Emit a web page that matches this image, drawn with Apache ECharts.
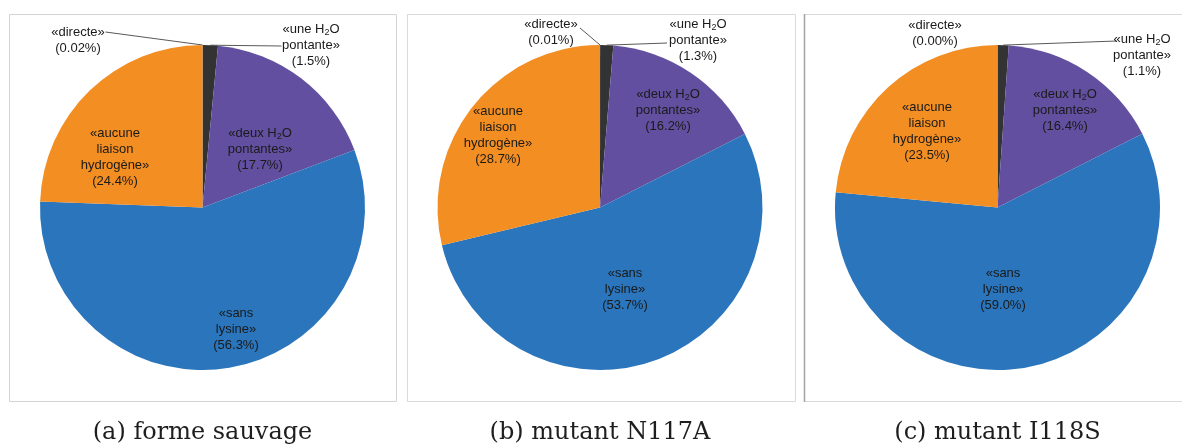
<!DOCTYPE html>
<html>
<head>
<meta charset="utf-8">
<script src="https://cdn.jsdelivr.net/npm/echarts@6/dist/echarts.min.js"></script>
<style>
  html, body { margin: 0; padding: 0; background: #ffffff; }
  #chart { width: 1182px; height: 447px; }
</style>
</head>
<body>
<div id="chart"></div>
<script>
// Interaction categories, clockwise from 12 o'clock
const categories = ['directe', 'une H2O pontante', 'deux H2O pontantes', 'sans lysine', 'aucune liaison hydrogène'];
// Text shown for each category ("_2" marks a subscript 2)
const categoryLabelLines = [
  ['«directe»'],
  ['«une H_2O', 'pontante»'],
  ['«deux H_2O', 'pontantes»'],
  ['«sans', 'lysine»'],
  ['«aucune', 'liaison', 'hydrogène»']
];
const panelTitles = ['(a) forme sauvage', '(b) mutant N117A', '(c) mutant I118S'];
// Share of frames (%) per category
const valuesWildType = [0.02, 1.5, 17.7, 56.3, 24.4];
const valuesN117A = [0.01, 1.3, 16.2, 53.7, 28.7];
const valuesI118S = [0.00, 1.1, 16.4, 59.0, 23.5];
const percentDecimals = [2, 1, 1, 1, 1];

const panelValues = [valuesWildType, valuesN117A, valuesI118S];

// ---- layout & styling ----
const sliceColors = ['#1f1f1f', '#333333', '#634f9f', '#2a75bb', '#f28e22'];
const pieCenters = [[202.5, 207.5], [600, 207.5], [997.5, 207.5]];
const pieRadius = 162.5;
const outsideItems = [0, 1];

// Label placement, relative to each pie centre; "line" is the leader end point
const labelPlacement = [
  [
    { dx: -124.5, dy: -167, line: [-97, -175.5] },
    { dx: 108.5, dy: -162.5, line: [79, -161.5] },
    { dx: 57.5, dy: -58.5 },
    { dx: 33.5, dy: 121.5 },
    { dx: -87.5, dy: -50.5 }
  ],
  [
    { dx: -49, dy: -175, line: [-20, -179.5] },
    { dx: 98, dy: -167.5, line: [67, -164.5] },
    { dx: 68, dy: -97.5 },
    { dx: 25, dy: 81.5 },
    { dx: -102, dy: -72 }
  ],
  [
    { dx: -62.5, dy: -174.5 },
    { dx: 144.5, dy: -152, line: [119, -166.5] },
    { dx: 67.5, dy: -97.5 },
    { dx: 5.5, dy: 81.5 },
    { dx: -70.5, dy: -76.5 }
  ]
];

function richLine(line) {
  return line.split('_2').map(function (part) { return part ? '{t|' + part + '}' : ''; }).join('{s|2}');
}

function labelText(idx, value) {
  const lines = categoryLabelLines[idx].map(richLine);
  lines.push('{t|(' + value.toFixed(percentDecimals[idx]) + '%)}');
  return lines.join('\n');
}

function midAngle(values, idx) {
  const total = values.reduce(function (a, b) { return a + b; }, 0);
  let before = 0;
  for (let i = 0; i < idx; i++) before += values[i];
  return (before + values[idx] / 2) / total * Math.PI * 2;
}

const richStyles = {
  t: { fontFamily: '"Liberation Sans", Arial, sans-serif', fontSize: 13, lineHeight: 16, color: '#1a1a1a' },
  s: { fontFamily: '"Liberation Sans", Arial, sans-serif', fontSize: 9, lineHeight: 8, color: '#1a1a1a', verticalAlign: 'bottom' }
};

const series = panelValues.map(function (values, k) {
  const c = pieCenters[k];
  return {
    type: 'pie',
    center: c,
    radius: [0, pieRadius],
    startAngle: 90,
    clockwise: true,
    avoidLabelOverlap: false,
    animation: false,
    silent: true,
    emphasis: { disabled: true },
    itemStyle: { borderWidth: 0 },
    data: values.map(function (v, i) {
      const outside = outsideItems.indexOf(i) >= 0;
      return {
        name: categories[i],
        value: v,
        itemStyle: { color: sliceColors[i] },
        label: {
          show: true,
          position: outside ? 'outside' : 'inside',
          formatter: labelText(i, v),
          rich: richStyles
        },
        labelLine: {
          show: outside && !!labelPlacement[k][i].line,
          length: 10,
          length2: 10,
          lineStyle: { color: '#595959', width: 1 }
        }
      };
    }),
    labelLayout: function (p) {
      const place = labelPlacement[k][p.dataIndex];
      const res = {
        x: c[0] + place.dx,
        y: c[1] + place.dy,
        align: 'center',
        verticalAlign: 'middle'
      };
      if (place.line) {
        const a = midAngle(values, p.dataIndex);
        const start = [c[0] + pieRadius * Math.sin(a), c[1] - pieRadius * Math.cos(a)];
        const end = [c[0] + place.line[0], c[1] + place.line[1]];
        res.labelLinePoints = [start, start, end];
      }
      return res;
    }
  };
});

// Panel frames and captions
const graphics = [
  { type: 'rect', shape: { x: 9.5, y: 14.5, width: 387, height: 387 }, style: { fill: 'none', stroke: '#d4d4d4', lineWidth: 1 } },
  { type: 'rect', shape: { x: 407.5, y: 14.5, width: 388, height: 387 }, style: { fill: 'none', stroke: '#d9d9d9', lineWidth: 1 } },
  { type: 'rect', shape: { x: 804.5, y: 14.5, width: 390, height: 387 }, style: { fill: 'none', stroke: '#d9d9d9', lineWidth: 1 } },
  { type: 'line', shape: { x1: 804.5, y1: 14, x2: 804.5, y2: 402 }, style: { stroke: '#a3a3a3', lineWidth: 1.5 } }
];
panelTitles.forEach(function (title, k) {
  graphics.push({
    type: 'text',
    x: pieCenters[k][0],
    y: 433,
    style: {
      text: title,
      fontFamily: '"DejaVu Serif", serif',
      fontSize: 24,
      fill: '#1e1e1e',
      align: 'center',
      verticalAlign: 'middle'
    }
  });
});

const chart = echarts.init(document.getElementById('chart'), null, { renderer: 'canvas' });
chart.setOption({
  animation: false,
  backgroundColor: '#ffffff',
  series: series,
  graphic: graphics
});
</script>
</body>
</html>
